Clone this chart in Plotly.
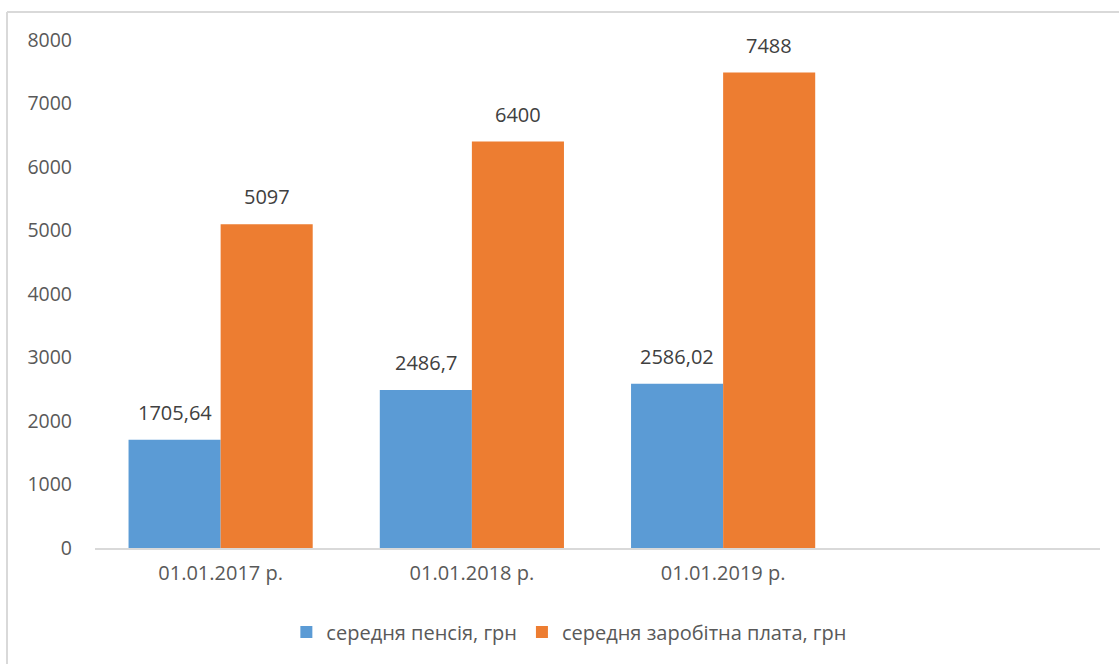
import plotly.graph_objects as go

categories = ["01.01.2017 р.", "01.01.2018 р.", "01.01.2019 р.", " "]
pension = [1705.64, 2486.7, 2586.02, None]
salary = [5097, 6400, 7488, None]
pension_labels = ["1705,64", "2486,7", "2586,02"]
salary_labels = ["5097", "6400", "7488"]
y_ticks = [0, 1000, 2000, 3000, 4000, 5000, 6000, 7000, 8000]

W, H = 1119, 664
L, R, T, B = 95, 19, 40, 116
pw, ph = W - L - R, H - T - B
BARGAP = 0.267

font = "Open Sans"
fig = go.Figure()
fig.add_trace(go.Bar(
    x=categories, y=pension, name="середня пенсія, грн",
    marker=dict(color="#5B9BD5", line=dict(width=0)),
))
fig.add_trace(go.Bar(
    x=categories, y=salary, name="середня заробітна плата, грн",
    marker=dict(color="#ED7D31", line=dict(width=0)),
))

# data labels above each bar (bar centre offsets within the category group)
half = (1 - BARGAP) / 4
annotations = []
for i, (v, t) in enumerate(zip(pension, pension_labels)):
    annotations.append(dict(x=i - half, y=v, xref="x", yref="y", text=t, showarrow=False,
                            yanchor="bottom", yshift=12,
                            font=dict(family=font, size=20, color="#404040")))
for i, (v, t) in enumerate(zip(salary, salary_labels)):
    annotations.append(dict(x=i + half, y=v, xref="x", yref="y", text=t, showarrow=False,
                            yanchor="bottom", yshift=12,
                            font=dict(family=font, size=20, color="#404040")))


def px_x(x):
    return (x - L) / pw


def px_y(y):
    return (H - B - y) / ph


fig.update_layout(
    width=W, height=H,
    margin=dict(l=L, r=R, t=T, b=B),
    paper_bgcolor="white", plot_bgcolor="white",
    barmode="group", bargap=BARGAP, bargroupgap=0,
    font=dict(family=font, size=20, color="#595959"),
    showlegend=True,
    legend=dict(orientation="h", x=0.472, xanchor="center", y=px_y(632), yanchor="middle",
                font=dict(family=font, size=20, color="#595959"),
                itemwidth=30, traceorder="normal"),
    xaxis=dict(type="category", categoryorder="array", categoryarray=categories,
               range=[-0.5, 3.5],
               showgrid=False, showline=True, linecolor="#D9D9D9", linewidth=1.5,
               ticks="", ticklabelstandoff=6, tickfont=dict(size=20, color="#595959"),
               zeroline=False),
    yaxis=dict(range=[0, 8000], tickvals=y_ticks, showgrid=False, showline=False,
               zeroline=False, ticks="", ticklabelstandoff=22,
               tickfont=dict(size=19.5, color="#595959")),
    annotations=annotations,
    shapes=[
        dict(type="line", xref="paper", yref="paper", x0=px_x(7), x1=px_x(W + 5),
             y0=px_y(12), y1=px_y(12), line=dict(color="#D9D9D9", width=2)),
        dict(type="line", xref="paper", yref="paper", x0=px_x(7), x1=px_x(7),
             y0=px_y(12), y1=px_y(H + 5), line=dict(color="#D9D9D9", width=2)),
    ],
)

fig.write_html("out.html", config={"displayModeBar": False},
               post_script="document.body.style.margin='0';document.body.style.overflow='hidden';")
